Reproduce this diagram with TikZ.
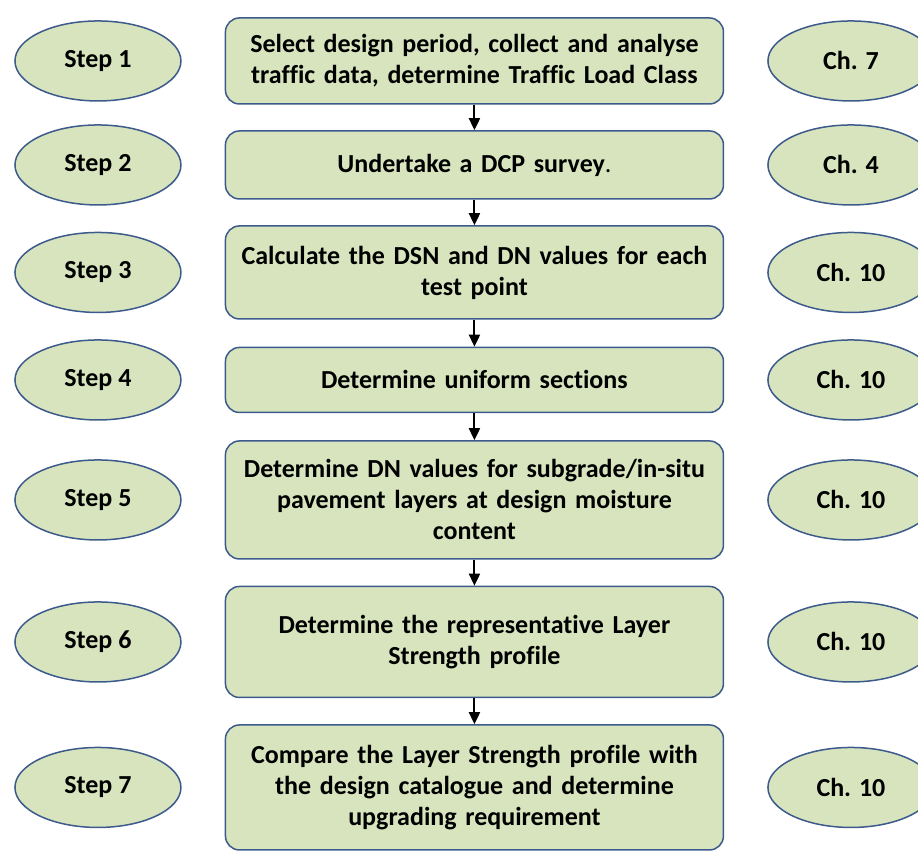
\documentclass[tikz,border=0pt]{standalone}
\usepackage{fontspec}
\setmainfont{Carlito}[Ligatures=NoCommon]
\usetikzlibrary{shapes.geometric,arrows.meta}
\definecolor{boxfill}{RGB}{215,228,189}
\definecolor{boxline}{RGB}{60,90,140}

\begin{document}
\begin{tikzpicture}[x=1pt,y=1pt,
   font=\bfseries\fontsize{26}{31}\selectfont,
   every matrix/.style={ampersand replacement=\&,column sep=43pt,row sep=19.5pt,inner sep=0pt},
   task/.style={anchor=center,draw=boxline,fill=boxfill,line width=1.5pt,rounded corners=14pt,
                text width=490pt,minimum width=498pt,align=center,inner sep=0pt},
   tag/.style={anchor=center,ellipse,draw=boxline,fill=boxfill,line width=1.5pt,
               minimum width=166pt,minimum height=80pt,inner sep=0pt},
   to/.style={-{Triangle[width=11pt,length=12pt]},line width=2pt}]
\useasboundingbox (0,0) rectangle (918,-851);
\matrix[anchor=north west] at (14,-17) {
\node[tag] (s1) {Step 1};\&\node[task,minimum height=86pt] (b1) {Select design period, collect and analyse\\traffic data, determine Traffic Load Class};\&\node[tag] (c1) {Ch. 7};\\
\node[tag] (s2) {Step 2};\&\node[task,minimum height=68pt] (b2) {Undertake a DCP survey{\mdseries.}};\&\node[tag] (c2) {Ch. 4};\\
\node[tag] (s3) {Step 3};\&\node[task,minimum height=93pt] (b3) {Calculate the DSN and DN values for each\\test point};\&\node[tag] (c3) {Ch. 10};\\
\node[tag] (s4) {Step 4};\&\node[task,minimum height=65pt] (b4) {Determine uniform sections};\&\node[tag] (c4) {Ch. 10};\\
\node[tag] (s5) {Step 5};\&\node[task,minimum height=118pt] (b5) {Determine DN values for subgrade/in-situ\\pavement layers at design moisture\\content};\&\node[tag] (c5) {Ch. 10};\\[6.5pt]
\node[tag] (s6) {Step 6};\&\node[task,minimum height=111pt] (b6) {Determine the representative Layer\\Strength profile};\&\node[tag] (c6) {Ch. 10};\\[6.5pt]
\node[tag] (s7) {Step 7};\&\node[task,minimum height=125pt] (b7) {Compare the Layer Strength profile with\\the design catalogue and determine\\upgrading requirement};\&\node[tag] (c7) {Ch. 10};\\
};
% flow down the middle column
\foreach \i [count=\j from 2] in {1,...,6}
  \draw[to] (b\i) -- (b\j);
\end{tikzpicture}
\end{document}
